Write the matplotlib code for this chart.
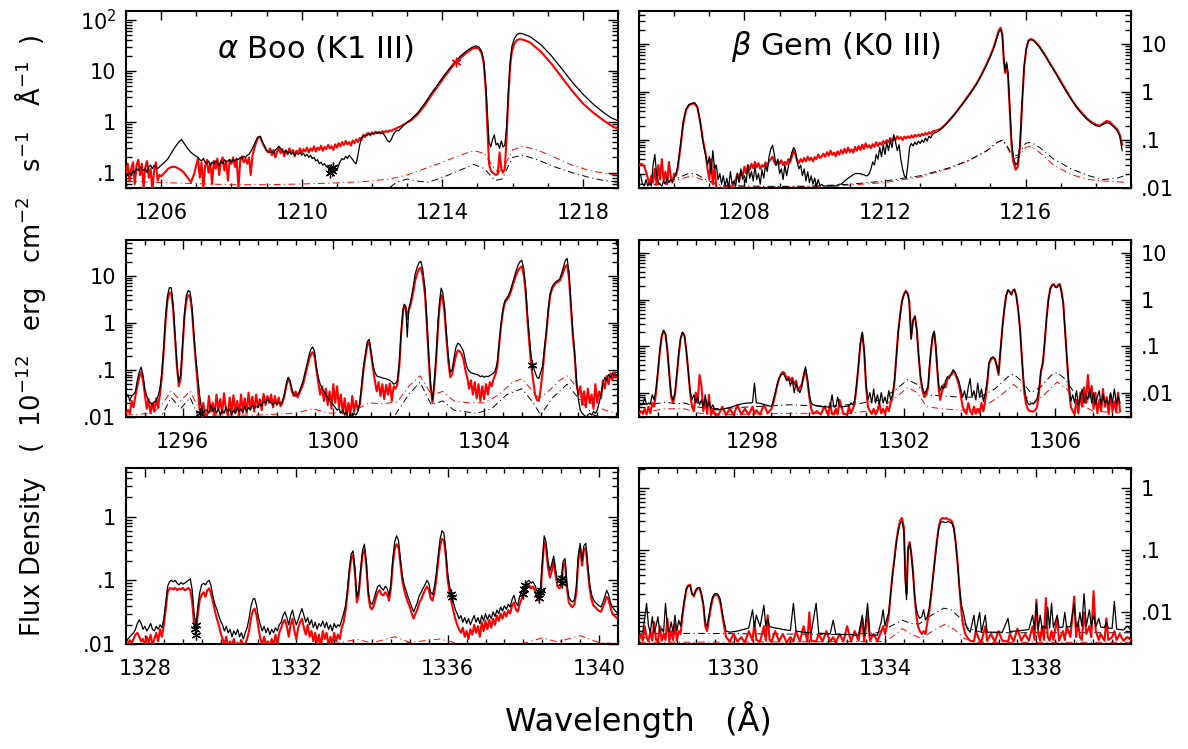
import numpy as np
import matplotlib
matplotlib.use("Agg")
import matplotlib.pyplot as plt
from matplotlib.ticker import (FixedLocator, MultipleLocator, LogLocator,
                               FuncFormatter, NullFormatter)

plt.rcParams['font.family'] = ['DejaVu Sans']
plt.rcParams['mathtext.fontset'] = 'dejavusans'

# ------------------------------------------------------------------
# Spectra: (wavelength [A], black trace flux, red trace flux)
# flux in 1e-12 erg cm^-2 s^-1 A^-1
# ------------------------------------------------------------------

# alpha Boo, Lyman-alpha region
boo_lya_spec = [
    (1205.00, 0.085, 0.10), (1205.05, 0.09, 0.15), (1205.10, 0.10, 0.07),
    (1205.15, 0.09, 0.12), (1205.20, 0.11, 0.16), (1205.25, 0.10, 0.06),
    (1205.30, 0.12, 0.14), (1205.35, 0.11, 0.18), (1205.40, 0.13, 0.09),
    (1205.45, 0.12, 0.15), (1205.50, 0.11, 0.05), (1205.55, 0.12, 0.13),
    (1205.60, 0.10, 0.17), (1205.65, 0.13, 0.08), (1205.70, 0.14, 0.12),
    (1205.75, 0.12, 0.045), (1205.80, 0.14, 0.11), (1205.85, 0.13, 0.16),
    (1205.90, 0.12, 0.07), (1205.95, 0.13, 0.09), (1206.00, 0.14, 0.085),
    (1206.10, 0.16, 0.10), (1206.20, 0.19, 0.12), (1206.30, 0.25, 0.13),
    (1206.40, 0.32, 0.13), (1206.50, 0.40, 0.12), (1206.58, 0.45, 0.11),
    (1206.65, 0.38, 0.10), (1206.75, 0.30, 0.08), (1206.85, 0.25, 0.065),
    (1206.95, 0.22, 0.10), (1207.00, 0.21, 0.14), (1207.05, 0.20, 0.19),
    (1207.10, 0.18, 0.08), (1207.15, 0.17, 0.16), (1207.20, 0.19, 0.05),
    (1207.25, 0.16, 0.13), (1207.30, 0.15, 0.18), (1207.35, 0.17, 0.10),
    (1207.40, 0.14, 0.15), (1207.45, 0.16, 0.06), (1207.50, 0.15, 0.17),
    (1207.55, 0.17, 0.12), (1207.60, 0.16, 0.19), (1207.65, 0.14, 0.09),
    (1207.70, 0.17, 0.16), (1207.75, 0.15, 0.20), (1207.80, 0.18, 0.11),
    (1207.85, 0.16, 0.17), (1207.90, 0.17, 0.07), (1207.95, 0.18, 0.18),
    (1208.00, 0.16, 0.15), (1208.05, 0.18, 0.20), (1208.10, 0.17, 0.13),
    (1208.15, 0.19, 0.18), (1208.20, 0.18, 0.05), (1208.25, 0.20, 0.17),
    (1208.30, 0.19, 0.21), (1208.35, 0.21, 0.16), (1208.40, 0.20, 0.19),
    (1208.45, 0.22, 0.15), (1208.50, 0.23, 0.20), (1208.55, 0.26, 0.09),
    (1208.60, 0.30, 0.22), (1208.68, 0.40, 0.35), (1208.75, 0.50, 0.48),
    (1208.82, 0.52, 0.50), (1208.90, 0.38, 0.36), (1209.00, 0.28, 0.27),
    (1209.05, 0.26, 0.25), (1209.10, 0.25, 0.30), (1209.15, 0.27, 0.22),
    (1209.20, 0.24, 0.28), (1209.25, 0.28, 0.20), (1209.30, 0.30, 0.26),
    (1209.35, 0.33, 0.31), (1209.40, 0.30, 0.24), (1209.45, 0.27, 0.29),
    (1209.50, 0.25, 0.21), (1209.55, 0.28, 0.27), (1209.60, 0.24, 0.23),
    (1209.65, 0.26, 0.30), (1209.70, 0.23, 0.24), (1209.75, 0.25, 0.28),
    (1209.80, 0.22, 0.21), (1209.85, 0.24, 0.27), (1209.90, 0.23, 0.25),
    (1209.95, 0.25, 0.30), (1210.00, 0.22, 0.24), (1210.05, 0.24, 0.29),
    (1210.10, 0.21, 0.26), (1210.15, 0.23, 0.31), (1210.20, 0.20, 0.25),
    (1210.25, 0.22, 0.30), (1210.30, 0.19, 0.27), (1210.35, 0.20, 0.33),
    (1210.40, 0.17, 0.26), (1210.45, 0.18, 0.31), (1210.50, 0.15, 0.28),
    (1210.55, 0.16, 0.34), (1210.60, 0.14, 0.27), (1210.65, 0.15, 0.32),
    (1210.70, 0.13, 0.29), (1210.75, 0.14, 0.35), (1210.80, 0.12, 0.30),
    (1210.85, 0.13, 0.33), (1210.90, 0.11, 0.28), (1210.95, 0.12, 0.36),
    (1211.00, 0.11, 0.31), (1211.05, 0.14, 0.38), (1211.10, 0.17, 0.33),
    (1211.15, 0.19, 0.40), (1211.20, 0.18, 0.35), (1211.25, 0.21, 0.42),
    (1211.30, 0.19, 0.36), (1211.35, 0.22, 0.40), (1211.40, 0.20, 0.34),
    (1211.45, 0.18, 0.43), (1211.50, 0.16, 0.38), (1211.55, 0.15, 0.45),
    (1211.60, 0.22, 0.40), (1211.65, 0.35, 0.48), (1211.70, 0.48, 0.44),
    (1211.75, 0.52, 0.55), (1211.80, 0.55, 0.50), (1211.85, 0.53, 0.58),
    (1211.90, 0.57, 0.60), (1211.95, 0.56, 0.54), (1212.00, 0.60, 0.62),
    (1212.05, 0.58, 0.57), (1212.10, 0.61, 0.64), (1212.15, 0.59, 0.60),
    (1212.20, 0.62, 0.63), (1212.25, 0.58, 0.61), (1212.30, 0.60, 0.65),
    (1212.35, 0.55, 0.62), (1212.40, 0.48, 0.66), (1212.45, 0.42, 0.63),
    (1212.50, 0.40, 0.68), (1212.55, 0.45, 0.66), (1212.60, 0.55, 0.70),
    (1212.65, 0.62, 0.72), (1212.70, 0.68, 0.75), (1212.75, 0.66, 0.78),
    (1212.80, 0.72, 0.80), (1212.85, 0.78, 0.84), (1212.90, 0.85, 0.88),
    (1212.95, 0.90, 0.92), (1213.00, 0.98, 0.97), (1213.10, 1.10, 1.05),
    (1213.30, 1.50, 1.40), (1213.50, 2.30, 2.10), (1213.70, 3.70, 3.40),
    (1213.90, 5.80, 5.30), (1214.10, 9.00, 8.30), (1214.30, 13.5, 12.5),
    (1214.40, 16.0, 15.0), (1214.50, 19.0, 17.5), (1214.70, 25.0, 23.0),
    (1214.85, 29.0, 27.0), (1214.95, 31.0, 28.5), (1215.05, 29.0, 27.0),
    (1215.12, 24.0, 22.0), (1215.18, 16.0, 14.0), (1215.24, 5.0, 4.0),
    (1215.29, 1.2, 0.6), (1215.33, 0.40, 0.15), (1215.38, 0.32, 0.11),
    (1215.43, 0.45, 0.10), (1215.48, 0.55, 0.095), (1215.53, 0.35, 0.09),
    (1215.58, 0.38, 0.095), (1215.63, 0.30, 0.25), (1215.68, 0.42, 0.12),
    (1215.73, 0.32, 0.10), (1215.78, 0.35, 0.12), (1215.83, 0.80, 0.50),
    (1215.88, 4.0, 3.0), (1215.93, 15.0, 12.0), (1215.98, 30.0, 24.0),
    (1216.05, 43.0, 34.0), (1216.12, 51.0, 40.0), (1216.20, 55.0, 42.0),
    (1216.30, 53.0, 41.0), (1216.50, 47.0, 36.0), (1216.80, 33.0, 24.0),
    (1217.10, 20.0, 14.0), (1217.40, 11.0, 7.5), (1217.70, 6.0, 4.0),
    (1218.00, 3.5, 2.3), (1218.30, 2.2, 1.5), (1218.60, 1.5, 1.05),
    (1218.80, 1.2, 0.85), (1219.00, 1.05, 0.72),
]
boo_lya_model_black = [
    (1205.0, 0.030), (1212.0, 0.035), (1212.4, 0.045), (1212.7, 0.065),
    (1213.0, 0.075), (1213.3, 0.068), (1213.6, 0.065), (1214.0, 0.080),
    (1214.4, 0.105), (1214.9, 0.145), (1215.2, 0.120), (1215.5, 0.070),
    (1215.7, 0.075), (1216.0, 0.200), (1216.3, 0.220), (1216.7, 0.180),
    (1217.2, 0.130), (1217.7, 0.100), (1218.2, 0.080), (1218.6, 0.070),
    (1219.0, 0.065),
]
boo_lya_model_red = [
    (1205.0, 0.068), (1206.0, 0.064), (1207.0, 0.061), (1208.0, 0.058),
    (1209.0, 0.058), (1210.0, 0.060), (1211.0, 0.063), (1211.8, 0.067),
    (1212.5, 0.075), (1213.0, 0.090), (1213.5, 0.120), (1214.0, 0.160),
    (1214.5, 0.220), (1214.9, 0.270), (1215.2, 0.240), (1215.45, 0.130),
    (1215.6, 0.100), (1215.8, 0.150), (1216.0, 0.280), (1216.3, 0.330),
    (1216.7, 0.280), (1217.2, 0.200), (1217.7, 0.140), (1218.2, 0.110),
    (1218.7, 0.095), (1219.0, 0.090),
]
boo_lya_flag_black = [(1210.80, 0.10), (1210.83, 0.12), (1210.86, 0.11), (1210.88, 0.13)]
boo_lya_flag_red = [(1214.40, 15.0)]

# beta Gem, Lyman-alpha region
gem_lya_spec = [
    (1205.00, 0.020, 0.030), (1205.05, 0.018, 0.032), (1205.10, 0.012, 0.031),
    (1205.15, 0.011, 0.028), (1205.20, 0.015, 0.022), (1205.25, 0.011, 0.016),
    (1205.30, 0.013, 0.012), (1205.35, 0.011, 0.018), (1205.40, 0.030, 0.013),
    (1205.45, 0.050, 0.025), (1205.50, 0.020, 0.012), (1205.55, 0.013, 0.030),
    (1205.60, 0.012, 0.015), (1205.65, 0.011, 0.040), (1205.70, 0.014, 0.014),
    (1205.75, 0.012, 0.022), (1205.80, 0.016, 0.012), (1205.85, 0.013, 0.035),
    (1205.90, 0.015, 0.018), (1205.95, 0.014, 0.013), (1206.00, 0.016, 0.020),
    (1206.05, 0.020, 0.018), (1206.10, 0.028, 0.025), (1206.18, 0.080, 0.070),
    (1206.26, 0.250, 0.220), (1206.34, 0.450, 0.420), (1206.42, 0.550, 0.530),
    (1206.50, 0.580, 0.570), (1206.58, 0.600, 0.580), (1206.66, 0.500, 0.480),
    (1206.74, 0.250, 0.240), (1206.82, 0.090, 0.100), (1206.90, 0.045, 0.050),
    (1206.95, 0.030, 0.025), (1207.00, 0.045, 0.015), (1207.05, 0.020, 0.040),
    (1207.10, 0.060, 0.012), (1207.15, 0.025, 0.030), (1207.20, 0.030, 0.010),
    (1207.25, 0.015, 0.009), (1207.30, 0.020, 0.009), (1207.35, 0.012, 0.010),
    (1207.40, 0.018, 0.010), (1207.45, 0.011, 0.011), (1207.50, 0.016, 0.010),
    (1207.55, 0.010, 0.012), (1207.60, 0.022, 0.011), (1207.65, 0.012, 0.010),
    (1207.70, 0.014, 0.013), (1207.75, 0.011, 0.015), (1207.80, 0.020, 0.020),
    (1207.85, 0.013, 0.014), (1207.90, 0.025, 0.022), (1207.95, 0.015, 0.018),
    (1208.00, 0.018, 0.028), (1208.05, 0.013, 0.020), (1208.10, 0.030, 0.030),
    (1208.15, 0.016, 0.024), (1208.20, 0.022, 0.032), (1208.25, 0.014, 0.026),
    (1208.30, 0.028, 0.035), (1208.35, 0.015, 0.027), (1208.40, 0.020, 0.033),
    (1208.45, 0.012, 0.025), (1208.50, 0.024, 0.030), (1208.55, 0.016, 0.028),
    (1208.60, 0.030, 0.034), (1208.65, 0.022, 0.029), (1208.70, 0.045, 0.036),
    (1208.75, 0.065, 0.040), (1208.80, 0.078, 0.045), (1208.85, 0.050, 0.035),
    (1208.90, 0.030, 0.030), (1208.95, 0.040, 0.037), (1209.00, 0.020, 0.032),
    (1209.05, 0.025, 0.038), (1209.10, 0.015, 0.030), (1209.15, 0.030, 0.035),
    (1209.20, 0.018, 0.031), (1209.25, 0.028, 0.040), (1209.30, 0.040, 0.034),
    (1209.35, 0.055, 0.045), (1209.40, 0.070, 0.060), (1209.45, 0.060, 0.050),
    (1209.50, 0.035, 0.038), (1209.55, 0.025, 0.033), (1209.60, 0.030, 0.040),
    (1209.65, 0.018, 0.035), (1209.70, 0.025, 0.042), (1209.75, 0.014, 0.036),
    (1209.80, 0.022, 0.045), (1209.85, 0.013, 0.038), (1209.90, 0.018, 0.043),
    (1209.95, 0.012, 0.036), (1210.00, 0.016, 0.044), (1210.05, 0.011, 0.040),
    (1210.10, 0.015, 0.050), (1210.15, 0.011, 0.042), (1210.20, 0.012, 0.046),
    (1210.25, 0.011, 0.052), (1210.30, 0.011, 0.045), (1210.35, 0.011, 0.056),
    (1210.40, 0.011, 0.047), (1210.45, 0.011, 0.060), (1210.50, 0.011, 0.049),
    (1210.55, 0.011, 0.055), (1210.60, 0.011, 0.046), (1210.65, 0.011, 0.058),
    (1210.70, 0.012, 0.050), (1210.75, 0.012, 0.062), (1210.80, 0.013, 0.052),
    (1210.85, 0.014, 0.066), (1210.90, 0.015, 0.054), (1210.95, 0.016, 0.070),
    (1211.00, 0.017, 0.056), (1211.05, 0.018, 0.064), (1211.10, 0.019, 0.055),
    (1211.15, 0.020, 0.072), (1211.20, 0.020, 0.060), (1211.25, 0.020, 0.075),
    (1211.30, 0.020, 0.062), (1211.35, 0.019, 0.080), (1211.40, 0.019, 0.065),
    (1211.45, 0.018, 0.085), (1211.50, 0.018, 0.070), (1211.55, 0.020, 0.078),
    (1211.60, 0.025, 0.068), (1211.65, 0.035, 0.082), (1211.70, 0.030, 0.072),
    (1211.75, 0.050, 0.090), (1211.80, 0.040, 0.075), (1211.85, 0.070, 0.088),
    (1211.90, 0.045, 0.080), (1211.95, 0.080, 0.095), (1212.00, 0.050, 0.085),
    (1212.05, 0.090, 0.100), (1212.10, 0.060, 0.090), (1212.15, 0.100, 0.110),
    (1212.20, 0.070, 0.095), (1212.25, 0.130, 0.115), (1212.30, 0.090, 0.100),
    (1212.35, 0.060, 0.120), (1212.40, 0.080, 0.105), (1212.45, 0.040, 0.115),
    (1212.50, 0.025, 0.100), (1212.55, 0.018, 0.118), (1212.60, 0.016, 0.108),
    (1212.65, 0.030, 0.120), (1212.70, 0.070, 0.110), (1212.75, 0.085, 0.125),
    (1212.80, 0.075, 0.112), (1212.85, 0.090, 0.128), (1212.90, 0.080, 0.118),
    (1212.95, 0.095, 0.130), (1213.00, 0.085, 0.120), (1213.05, 0.100, 0.135),
    (1213.10, 0.090, 0.125), (1213.15, 0.110, 0.140), (1213.20, 0.095, 0.130),
    (1213.25, 0.120, 0.145), (1213.30, 0.110, 0.135), (1213.35, 0.130, 0.150),
    (1213.40, 0.140, 0.155), (1213.50, 0.150, 0.160), (1213.60, 0.170, 0.175),
    (1213.70, 0.200, 0.205), (1213.80, 0.240, 0.245), (1213.90, 0.290, 0.295),
    (1214.00, 0.360, 0.360), (1214.10, 0.450, 0.450), (1214.20, 0.560, 0.560),
    (1214.30, 0.700, 0.710), (1214.40, 0.880, 0.900), (1214.50, 1.12, 1.15),
    (1214.60, 1.45, 1.50), (1214.70, 1.95, 2.00), (1214.80, 2.70, 2.80),
    (1214.90, 3.80, 4.00), (1215.00, 5.50, 5.80), (1215.10, 8.50, 9.00),
    (1215.18, 13.0, 14.0), (1215.24, 18.0, 19.5), (1215.29, 20.0, 22.0),
    (1215.34, 15.0, 16.0), (1215.38, 5.00, 4.50), (1215.42, 2.70, 2.50),
    (1215.46, 4.20, 3.80), (1215.50, 2.50, 2.20), (1215.55, 0.50, 0.40),
    (1215.60, 0.10, 0.08), (1215.65, 0.045, 0.035), (1215.72, 0.030, 0.024),
    (1215.78, 0.035, 0.028), (1215.84, 0.080, 0.070), (1215.90, 0.60, 0.55),
    (1215.96, 3.50, 3.30), (1216.02, 8.00, 8.00), (1216.08, 11.5, 11.8),
    (1216.15, 12.5, 12.8), (1216.25, 11.5, 11.8), (1216.40, 8.50, 8.80),
    (1216.55, 5.80, 6.00), (1216.70, 3.80, 3.90), (1216.85, 2.50, 2.60),
    (1217.00, 1.60, 1.70), (1217.15, 1.05, 1.10), (1217.30, 0.70, 0.72),
    (1217.45, 0.48, 0.50), (1217.60, 0.35, 0.37), (1217.75, 0.27, 0.28),
    (1217.90, 0.22, 0.23), (1218.00, 0.20, 0.21), (1218.10, 0.19, 0.20),
    (1218.20, 0.21, 0.22), (1218.30, 0.23, 0.25), (1218.40, 0.22, 0.24),
    (1218.50, 0.19, 0.20), (1218.60, 0.16, 0.17), (1218.68, 0.12, 0.13),
    (1218.75, 0.06, 0.08),
]
gem_lya_model_black = [
    (1205.0, 0.012), (1205.5, 0.012), (1206.0, 0.015), (1206.4, 0.020),
    (1206.6, 0.020), (1206.9, 0.015), (1207.3, 0.0115), (1208.0, 0.011),
    (1209.0, 0.0108), (1210.0, 0.011), (1211.0, 0.012), (1212.0, 0.014),
    (1213.0, 0.018), (1213.8, 0.026), (1214.4, 0.038), (1214.9, 0.060),
    (1215.2, 0.090), (1215.35, 0.100), (1215.5, 0.070), (1215.65, 0.045),
    (1215.8, 0.050), (1216.0, 0.085), (1216.15, 0.090), (1216.4, 0.070),
    (1216.8, 0.040), (1217.3, 0.025), (1217.8, 0.018), (1218.2, 0.015),
    (1218.6, 0.016), (1218.9, 0.019),
]
gem_lya_model_red = [
    (1205.0, 0.012), (1205.5, 0.0115), (1206.0, 0.014), (1206.5, 0.018),
    (1206.9, 0.014), (1207.3, 0.011), (1208.0, 0.0105), (1209.0, 0.0105),
    (1210.0, 0.0108), (1211.0, 0.0115), (1212.0, 0.013), (1213.0, 0.017),
    (1213.8, 0.025), (1214.4, 0.038), (1214.9, 0.060), (1215.2, 0.090),
    (1215.35, 0.100), (1215.5, 0.065), (1215.65, 0.040), (1215.8, 0.045),
    (1216.0, 0.070), (1216.15, 0.075), (1216.4, 0.055), (1216.8, 0.030),
    (1217.3, 0.019), (1217.8, 0.015), (1218.2, 0.014), (1218.6, 0.0135),
    (1218.9, 0.013),
]

# alpha Boo, O I 1300 region
boo_oi_spec = [
    (1294.50, 0.025, 0.012), (1294.55, 0.030, 0.014), (1294.60, 0.022, 0.012),
    (1294.65, 0.028, 0.022), (1294.70, 0.030, 0.016), (1294.75, 0.035, 0.028),
    (1294.80, 0.060, 0.045), (1294.85, 0.090, 0.070), (1294.90, 0.115, 0.090),
    (1294.95, 0.080, 0.060), (1295.00, 0.040, 0.030), (1295.05, 0.028, 0.015),
    (1295.10, 0.022, 0.024), (1295.15, 0.020, 0.012), (1295.20, 0.018, 0.020),
    (1295.25, 0.021, 0.013), (1295.30, 0.022, 0.025), (1295.35, 0.028, 0.016),
    (1295.40, 0.040, 0.030), (1295.45, 0.090, 0.070), (1295.50, 0.300, 0.250),
    (1295.55, 1.40, 1.10), (1295.60, 3.80, 3.00), (1295.65, 5.60, 4.40),
    (1295.70, 5.60, 4.40), (1295.75, 2.50, 2.00), (1295.80, 0.600, 0.500),
    (1295.85, 0.140, 0.120), (1295.90, 0.055, 0.045), (1295.95, 0.080, 0.065),
    (1296.00, 0.350, 0.280), (1296.05, 1.60, 1.30), (1296.10, 3.80, 3.00),
    (1296.15, 4.90, 3.90), (1296.20, 4.60, 3.70), (1296.25, 2.20, 1.80),
    (1296.30, 0.600, 0.500), (1296.35, 0.180, 0.150), (1296.40, 0.080, 0.050),
    (1296.45, 0.030, 0.015), (1296.50, 0.016, 0.009), (1296.55, 0.012, 0.020),
    (1296.60, 0.014, 0.011), (1296.65, 0.014, 0.011), (1296.70, 0.012, 0.028),
    (1296.75, 0.018, 0.013), (1296.80, 0.013, 0.020), (1296.85, 0.016, 0.011),
    (1296.90, 0.012, 0.030), (1296.95, 0.015, 0.014), (1297.00, 0.011, 0.024),
    (1297.05, 0.014, 0.012), (1297.10, 0.012, 0.032), (1297.15, 0.016, 0.015),
    (1297.20, 0.013, 0.011), (1297.25, 0.015, 0.026), (1297.30, 0.011, 0.013),
    (1297.35, 0.014, 0.029), (1297.40, 0.012, 0.012), (1297.45, 0.016, 0.022),
    (1297.50, 0.013, 0.011), (1297.55, 0.015, 0.030), (1297.60, 0.012, 0.014),
    (1297.65, 0.017, 0.025), (1297.70, 0.013, 0.012), (1297.75, 0.016, 0.033),
    (1297.80, 0.014, 0.015), (1297.85, 0.018, 0.027), (1297.90, 0.015, 0.013),
    (1297.95, 0.017, 0.030), (1298.00, 0.016, 0.016), (1298.05, 0.019, 0.024),
    (1298.10, 0.017, 0.014), (1298.15, 0.022, 0.031), (1298.20, 0.020, 0.018),
    (1298.25, 0.024, 0.028), (1298.30, 0.022, 0.020), (1298.35, 0.020, 0.030),
    (1298.40, 0.018, 0.016), (1298.45, 0.021, 0.028), (1298.50, 0.019, 0.018),
    (1298.55, 0.020, 0.026), (1298.60, 0.019, 0.017), (1298.65, 0.022, 0.020),
    (1298.70, 0.030, 0.028), (1298.75, 0.050, 0.045), (1298.80, 0.070, 0.065),
    (1298.85, 0.060, 0.055), (1298.90, 0.040, 0.035), (1298.95, 0.030, 0.028),
    (1299.00, 0.028, 0.035), (1299.05, 0.030, 0.026), (1299.10, 0.035, 0.032),
    (1299.15, 0.045, 0.040), (1299.20, 0.060, 0.050), (1299.25, 0.090, 0.075),
    (1299.30, 0.130, 0.110), (1299.35, 0.200, 0.160), (1299.40, 0.270, 0.210),
    (1299.45, 0.310, 0.240), (1299.50, 0.250, 0.200), (1299.55, 0.120, 0.100),
    (1299.60, 0.070, 0.055), (1299.65, 0.050, 0.030), (1299.70, 0.042, 0.045),
    (1299.75, 0.035, 0.022), (1299.80, 0.030, 0.040), (1299.85, 0.026, 0.018),
    (1299.90, 0.022, 0.035), (1299.95, 0.020, 0.015), (1300.00, 0.018, 0.050),
    (1300.05, 0.016, 0.020), (1300.10, 0.014, 0.045), (1300.15, 0.015, 0.016),
    (1300.20, 0.012, 0.030), (1300.25, 0.014, 0.012), (1300.30, 0.011, 0.025),
    (1300.35, 0.013, 0.011), (1300.40, 0.009, 0.020), (1300.45, 0.012, 0.011),
    (1300.50, 0.010, 0.028), (1300.55, 0.012, 0.013), (1300.60, 0.011, 0.022),
    (1300.65, 0.013, 0.014), (1300.70, 0.020, 0.018), (1300.75, 0.050, 0.040),
    (1300.80, 0.120, 0.100), (1300.85, 0.220, 0.190), (1300.90, 0.400, 0.340),
    (1300.95, 0.450, 0.390), (1301.00, 0.250, 0.220), (1301.05, 0.130, 0.110),
    (1301.10, 0.090, 0.060), (1301.15, 0.075, 0.035), (1301.20, 0.072, 0.055),
    (1301.25, 0.070, 0.028), (1301.30, 0.068, 0.050), (1301.35, 0.066, 0.024),
    (1301.40, 0.065, 0.048), (1301.45, 0.062, 0.030), (1301.50, 0.060, 0.052),
    (1301.55, 0.056, 0.022), (1301.60, 0.050, 0.045), (1301.65, 0.052, 0.040),
    (1301.70, 0.060, 0.050), (1301.75, 0.150, 0.120), (1301.80, 0.700, 0.600),
    (1301.85, 2.00, 1.80), (1301.88, 2.50, 2.20), (1301.92, 2.30, 2.10),
    (1301.96, 0.500, 1.20), (1302.00, 2.00, 1.90), (1302.04, 2.60, 2.30),
    (1302.08, 4.00, 3.20), (1302.12, 6.00, 4.50), (1302.17, 11.0, 8.00),
    (1302.22, 15.0, 11.0), (1302.27, 19.0, 14.0), (1302.32, 20.5, 15.0),
    (1302.37, 14.0, 10.0), (1302.43, 5.50, 4.00), (1302.48, 1.20, 0.90),
    (1302.53, 0.220, 0.160), (1302.58, 0.050, 0.040), (1302.63, 0.023, 0.020),
    (1302.68, 0.060, 0.050), (1302.73, 0.220, 0.180), (1302.78, 1.20, 0.90),
    (1302.82, 3.00, 2.30), (1302.86, 5.50, 3.90), (1302.90, 4.50, 3.40),
    (1302.95, 2.20, 1.60), (1303.00, 0.600, 0.450), (1303.05, 0.200, 0.150),
    (1303.10, 0.090, 0.070), (1303.15, 0.100, 0.080), (1303.20, 0.180, 0.130),
    (1303.25, 0.300, 0.200), (1303.30, 0.370, 0.260), (1303.35, 0.350, 0.250),
    (1303.40, 0.300, 0.220), (1303.45, 0.250, 0.170), (1303.50, 0.160, 0.100),
    (1303.55, 0.110, 0.070), (1303.60, 0.095, 0.040), (1303.65, 0.088, 0.060),
    (1303.70, 0.085, 0.030), (1303.75, 0.082, 0.055), (1303.80, 0.080, 0.025),
    (1303.85, 0.078, 0.050), (1303.90, 0.072, 0.022), (1303.95, 0.075, 0.045),
    (1304.00, 0.070, 0.024), (1304.05, 0.074, 0.050), (1304.10, 0.072, 0.030),
    (1304.15, 0.076, 0.055), (1304.20, 0.080, 0.045), (1304.25, 0.085, 0.065),
    (1304.30, 0.100, 0.080), (1304.35, 0.150, 0.120), (1304.40, 0.400, 0.350),
    (1304.45, 1.00, 0.900), (1304.50, 2.00, 1.80), (1304.55, 3.00, 2.70),
    (1304.60, 3.40, 3.10), (1304.65, 3.90, 3.50), (1304.70, 5.00, 4.40),
    (1304.75, 7.00, 6.00), (1304.80, 9.50, 8.00), (1304.85, 13.0, 10.5),
    (1304.90, 17.0, 13.0), (1304.95, 20.0, 15.0), (1305.00, 21.5, 16.0),
    (1305.05, 14.0, 10.5), (1305.10, 6.00, 4.50), (1305.15, 1.50, 1.10),
    (1305.20, 0.500, 0.350), (1305.25, 0.180, 0.120), (1305.30, 0.120, 0.060),
    (1305.35, 0.090, 0.030), (1305.40, 0.070, 0.023), (1305.45, 0.066, 0.022),
    (1305.50, 0.090, 0.040), (1305.55, 0.120, 0.090), (1305.60, 0.300, 0.250),
    (1305.65, 0.700, 0.600), (1305.70, 2.00, 1.70), (1305.75, 4.20, 3.80),
    (1305.80, 5.80, 5.20), (1305.85, 6.80, 6.20), (1305.90, 7.50, 7.00),
    (1305.95, 8.00, 7.40), (1306.00, 8.50, 7.80), (1306.05, 11.0, 9.50),
    (1306.10, 15.0, 12.0), (1306.15, 21.0, 16.0), (1306.20, 23.5, 17.0),
    (1306.25, 12.0, 9.00), (1306.30, 3.00, 2.30), (1306.35, 0.700, 0.550),
    (1306.40, 0.250, 0.200), (1306.45, 0.060, 0.050), (1306.50, 0.023, 0.030),
    (1306.55, 0.014, 0.045), (1306.60, 0.012, 0.018), (1306.65, 0.011, 0.035),
    (1306.70, 0.010, 0.016), (1306.75, 0.011, 0.040), (1306.80, 0.012, 0.020),
    (1306.85, 0.011, 0.030), (1306.90, 0.013, 0.015), (1306.95, 0.012, 0.050),
    (1307.00, 0.014, 0.020), (1307.05, 0.020, 0.035), (1307.10, 0.030, 0.025),
    (1307.15, 0.050, 0.060), (1307.20, 0.070, 0.040), (1307.25, 0.060, 0.075),
    (1307.30, 0.080, 0.050), (1307.35, 0.070, 0.085), (1307.40, 0.085, 0.060),
    (1307.45, 0.075, 0.090), (1307.50, 0.080, 0.070),
]
boo_oi_model_black = [
    (1294.5, 0.007), (1295.4, 0.009), (1295.7, 0.026), (1295.95, 0.015),
    (1296.2, 0.026), (1296.45, 0.009), (1296.8, 0.007), (1300.5, 0.007),
    (1301.0, 0.009), (1301.6, 0.010), (1302.0, 0.030), (1302.3, 0.055),
    (1302.6, 0.018), (1302.9, 0.022), (1303.2, 0.014), (1303.8, 0.012),
    (1304.2, 0.015), (1304.6, 0.030), (1305.0, 0.040), (1305.3, 0.020),
    (1305.5, 0.011), (1305.8, 0.025), (1306.2, 0.050), (1306.5, 0.025),
    (1306.9, 0.011), (1307.5, 0.008),
]
boo_oi_model_red = [
    (1294.5, 0.011), (1295.2, 0.012), (1295.45, 0.018), (1295.7, 0.036),
    (1295.95, 0.022), (1296.2, 0.036), (1296.45, 0.014), (1296.8, 0.011),
    (1298.0, 0.011), (1299.0, 0.012), (1299.45, 0.015), (1299.9, 0.012),
    (1300.5, 0.013), (1300.95, 0.020), (1301.3, 0.019), (1301.7, 0.021),
    (1302.0, 0.045), (1302.3, 0.075), (1302.55, 0.035), (1302.65, 0.030),
    (1302.9, 0.035), (1303.2, 0.022), (1303.6, 0.020), (1304.0, 0.020),
    (1304.4, 0.030), (1304.75, 0.055), (1305.0, 0.065), (1305.3, 0.035),
    (1305.45, 0.025), (1305.7, 0.035), (1306.0, 0.060), (1306.2, 0.075),
    (1306.5, 0.040), (1306.8, 0.020), (1307.2, 0.014), (1307.5, 0.012),
]
boo_oi_flag_black = [(1305.27, 0.13), (1296.45, 0.012)]

# beta Gem, O I 1300 region
gem_oi_spec = [
    (1295.00, 0.0055, 0.0036), (1295.05, 0.0055, 0.0040), (1295.10, 0.0056, 0.0035),
    (1295.15, 0.0080, 0.0045), (1295.20, 0.0055, 0.0034), (1295.25, 0.0060, 0.0050),
    (1295.30, 0.0058, 0.0036), (1295.35, 0.0090, 0.0060), (1295.40, 0.0070, 0.0050),
    (1295.45, 0.0120, 0.0100), (1295.50, 0.0300, 0.0280), (1295.55, 0.0800, 0.0750),
    (1295.60, 0.1700, 0.1600), (1295.65, 0.2200, 0.2100), (1295.70, 0.1800, 0.1800),
    (1295.75, 0.0800, 0.0800), (1295.80, 0.0250, 0.0250), (1295.85, 0.0090, 0.0080),
    (1295.90, 0.0070, 0.0060), (1295.95, 0.0100, 0.0090), (1296.00, 0.0250, 0.0230),
    (1296.05, 0.0700, 0.0650), (1296.10, 0.1500, 0.1450), (1296.15, 0.2000, 0.1950),
    (1296.20, 0.1700, 0.1700), (1296.25, 0.0800, 0.0800), (1296.30, 0.0300, 0.0300),
    (1296.35, 0.0110, 0.0100), (1296.40, 0.0070, 0.0050), (1296.45, 0.0090, 0.0040),
    (1296.50, 0.0060, 0.0100), (1296.55, 0.0080, 0.0060), (1296.60, 0.0055, 0.0240),
    (1296.65, 0.0070, 0.0140), (1296.70, 0.0050, 0.0040), (1296.75, 0.0090, 0.0070),
    (1296.80, 0.0048, 0.0035), (1296.85, 0.0065, 0.0090), (1296.90, 0.0045, 0.0033),
    (1296.95, 0.0055, 0.0045), (1297.00, 0.0043, 0.0035), (1297.10, 0.0043, 0.0033),
    (1297.20, 0.0044, 0.0050), (1297.30, 0.0046, 0.0033), (1297.40, 0.0048, 0.0045),
    (1297.50, 0.0051, 0.0033), (1297.60, 0.0054, 0.0055), (1297.70, 0.0057, 0.0034),
    (1297.80, 0.0059, 0.0045), (1297.90, 0.0060, 0.0034), (1298.00, 0.0061, 0.0050),
    (1298.05, 0.0160, 0.0035), (1298.10, 0.0060, 0.0042), (1298.20, 0.0059, 0.0034),
    (1298.30, 0.0056, 0.0055), (1298.40, 0.0053, 0.0036), (1298.50, 0.0050, 0.0045),
    (1298.55, 0.0070, 0.0060), (1298.60, 0.0100, 0.0090), (1298.65, 0.0150, 0.0140),
    (1298.70, 0.0200, 0.0200), (1298.75, 0.0240, 0.0250), (1298.80, 0.0260, 0.0280),
    (1298.85, 0.0230, 0.0260), (1298.90, 0.0180, 0.0200), (1298.95, 0.0200, 0.0220),
    (1299.00, 0.0140, 0.0180), (1299.05, 0.0190, 0.0210), (1299.10, 0.0100, 0.0150),
    (1299.15, 0.0160, 0.0180), (1299.20, 0.0120, 0.0110), (1299.25, 0.0100, 0.0130),
    (1299.30, 0.0130, 0.0150), (1299.35, 0.0250, 0.0220), (1299.40, 0.0360, 0.0300),
    (1299.45, 0.0200, 0.0180), (1299.50, 0.0090, 0.0080), (1299.55, 0.0060, 0.0045),
    (1299.60, 0.0055, 0.0035), (1299.70, 0.0052, 0.0040), (1299.80, 0.0050, 0.0034),
    (1299.90, 0.0050, 0.0050), (1300.00, 0.0049, 0.0033), (1300.05, 0.0049, 0.0060),
    (1300.10, 0.0090, 0.0035), (1300.15, 0.0049, 0.0034), (1300.20, 0.0050, 0.0045),
    (1300.25, 0.0080, 0.0034), (1300.30, 0.0050, 0.0070), (1300.40, 0.0050, 0.0035),
    (1300.50, 0.0051, 0.0034), (1300.55, 0.0052, 0.0050), (1300.60, 0.0060, 0.0036),
    (1300.65, 0.0055, 0.0045), (1300.70, 0.0070, 0.0060), (1300.75, 0.0150, 0.0140),
    (1300.80, 0.0400, 0.0380), (1300.85, 0.1200, 0.1100), (1300.90, 0.2000, 0.1900),
    (1300.95, 0.0800, 0.0750), (1301.00, 0.0150, 0.0130), (1301.05, 0.0070, 0.0050),
    (1301.10, 0.0100, 0.0040), (1301.15, 0.0060, 0.0035), (1301.20, 0.0120, 0.0045),
    (1301.25, 0.0060, 0.0034), (1301.30, 0.0090, 0.0040), (1301.35, 0.0055, 0.0060),
    (1301.40, 0.0100, 0.0036), (1301.45, 0.0060, 0.0045), (1301.50, 0.0080, 0.0035),
    (1301.55, 0.0058, 0.0050), (1301.60, 0.0110, 0.0040), (1301.65, 0.0070, 0.0060),
    (1301.70, 0.0090, 0.0080), (1301.75, 0.0180, 0.0170), (1301.80, 0.0600, 0.0600),
    (1301.85, 0.2000, 0.2100), (1301.90, 0.4500, 0.4800), (1301.95, 0.9000, 0.9500),
    (1302.00, 1.2500, 1.3000), (1302.05, 1.5000, 1.5500), (1302.10, 1.3000, 1.3500),
    (1302.14, 0.9000, 0.9500), (1302.19, 0.1400, 0.1500), (1302.24, 0.3500, 0.3600),
    (1302.29, 0.4300, 0.4400), (1302.34, 0.2200, 0.2300), (1302.39, 0.0600, 0.0600),
    (1302.44, 0.0220, 0.0200), (1302.49, 0.0130, 0.0110), (1302.54, 0.0095, 0.0080),
    (1302.59, 0.0110, 0.0090), (1302.64, 0.0140, 0.0130), (1302.68, 0.0400, 0.0380),
    (1302.72, 0.0900, 0.0850), (1302.76, 0.1700, 0.1600), (1302.80, 0.2100, 0.2000),
    (1302.84, 0.1000, 0.1000), (1302.88, 0.0350, 0.0320), (1302.92, 0.0140, 0.0120),
    (1302.96, 0.0110, 0.0070), (1303.00, 0.0140, 0.0100), (1303.05, 0.0120, 0.0150),
    (1303.10, 0.0180, 0.0130), (1303.15, 0.0220, 0.0200), (1303.20, 0.0200, 0.0230),
    (1303.25, 0.0260, 0.0240), (1303.30, 0.0310, 0.0280), (1303.35, 0.0280, 0.0260),
    (1303.40, 0.0220, 0.0200), (1303.45, 0.0180, 0.0150), (1303.50, 0.0120, 0.0090),
    (1303.55, 0.0080, 0.0050), (1303.60, 0.0110, 0.0040), (1303.65, 0.0070, 0.0035),
    (1303.70, 0.0130, 0.0060), (1303.75, 0.0200, 0.0040), (1303.80, 0.0080, 0.0034),
    (1303.85, 0.0110, 0.0050), (1303.90, 0.0070, 0.0035), (1303.95, 0.0160, 0.0045),
    (1304.00, 0.0080, 0.0036), (1304.05, 0.0120, 0.0060), (1304.10, 0.0065, 0.0040),
    (1304.15, 0.0100, 0.0070), (1304.20, 0.0180, 0.0150), (1304.25, 0.0450, 0.0420),
    (1304.30, 0.0550, 0.0520), (1304.35, 0.0590, 0.0560), (1304.40, 0.0550, 0.0530),
    (1304.45, 0.0400, 0.0380), (1304.50, 0.0260, 0.0240), (1304.55, 0.0800, 0.0750),
    (1304.60, 0.2500, 0.2400), (1304.65, 0.6000, 0.5800), (1304.70, 1.2000, 1.2000),
    (1304.75, 1.6000, 1.6000), (1304.80, 1.4500, 1.4500), (1304.84, 1.2700, 1.2800),
    (1304.88, 1.5500, 1.5500), (1304.92, 1.6500, 1.6500), (1304.97, 1.2000, 1.2000),
    (1305.02, 0.6000, 0.6000), (1305.07, 0.2200, 0.2200), (1305.12, 0.0500, 0.0500),
    (1305.17, 0.0150, 0.0120), (1305.22, 0.0080, 0.0060), (1305.27, 0.0060, 0.0045),
    (1305.32, 0.0055, 0.0040), (1305.37, 0.0060, 0.0040), (1305.42, 0.0058, 0.0039),
    (1305.47, 0.0065, 0.0042), (1305.52, 0.0075, 0.0050), (1305.57, 0.0120, 0.0100),
    (1305.62, 0.0300, 0.0280), (1305.67, 0.0450, 0.0420), (1305.72, 0.1200, 0.1200),
    (1305.77, 0.4000, 0.4100), (1305.82, 1.0000, 1.0500), (1305.87, 1.7000, 1.7500),
    (1305.92, 2.0000, 2.1000), (1305.96, 2.0700, 2.1500), (1306.00, 1.8500, 1.9000),
    (1306.04, 1.8000, 1.8500), (1306.08, 2.0000, 2.1000), (1306.12, 2.0700, 2.1500),
    (1306.16, 1.5000, 1.5500), (1306.21, 0.8000, 0.8500), (1306.26, 0.2000, 0.2000),
    (1306.31, 0.0500, 0.0450), (1306.36, 0.0150, 0.0120), (1306.41, 0.0065, 0.0050),
    (1306.46, 0.0090, 0.0040), (1306.51, 0.0060, 0.0035), (1306.56, 0.0110, 0.0070),
    (1306.61, 0.0055, 0.0036), (1306.66, 0.0080, 0.0100), (1306.71, 0.0120, 0.0050),
    (1306.76, 0.0060, 0.0130), (1306.81, 0.0090, 0.0060), (1306.86, 0.0070, 0.0240),
    (1306.91, 0.0120, 0.0080), (1306.96, 0.0060, 0.0140), (1307.01, 0.0100, 0.0045),
    (1307.06, 0.0055, 0.0100), (1307.11, 0.0080, 0.0036), (1307.16, 0.0110, 0.0070),
    (1307.21, 0.0055, 0.0040), (1307.26, 0.0090, 0.0120), (1307.31, 0.0060, 0.0050),
    (1307.36, 0.0070, 0.0080), (1307.41, 0.0055, 0.0035), (1307.46, 0.0100, 0.0090),
    (1307.51, 0.0060, 0.0040), (1307.56, 0.0120, 0.0065), (1307.61, 0.0058, 0.0038),
    (1307.66, 0.0085, 0.0100), (1307.71, 0.0060, 0.0040),
]
gem_oi_model_black = [
    (1295.0, 0.0055), (1295.3, 0.0056), (1295.7, 0.0062), (1296.0, 0.0058),
    (1296.2, 0.0060), (1296.5, 0.0050), (1296.9, 0.0045), (1297.5, 0.0047),
    (1298.0, 0.0050), (1298.5, 0.0052), (1299.0, 0.0055), (1299.6, 0.0052),
    (1300.2, 0.0052), (1300.8, 0.0058), (1301.4, 0.0070), (1301.8, 0.0120),
    (1302.1, 0.0190), (1302.35, 0.0150), (1302.6, 0.0090), (1303.0, 0.0085),
    (1303.5, 0.0080), (1304.0, 0.0080), (1304.4, 0.0120), (1304.75, 0.0220),
    (1304.9, 0.0250), (1305.1, 0.0180), (1305.35, 0.0100), (1305.6, 0.0130),
    (1305.9, 0.0240), (1306.05, 0.0270), (1306.25, 0.0200), (1306.5, 0.0100),
    (1306.8, 0.0065), (1307.2, 0.0056), (1307.7, 0.0055),
]
gem_oi_model_red = [
    (1295.0, 0.0037), (1295.7, 0.0045), (1296.2, 0.0045), (1296.6, 0.0036),
    (1297.5, 0.0034), (1299.0, 0.0036), (1300.5, 0.0036), (1301.3, 0.0042),
    (1301.8, 0.0080), (1302.1, 0.0130), (1302.35, 0.0100), (1302.6, 0.0050),
    (1303.0, 0.0045), (1303.5, 0.0042), (1304.0, 0.0045), (1304.5, 0.0080),
    (1304.9, 0.0150), (1305.15, 0.0100), (1305.4, 0.0055), (1305.7, 0.0090),
    (1306.05, 0.0170), (1306.3, 0.0120), (1306.6, 0.0060), (1307.0, 0.0040),
    (1307.7, 0.0037),
]

# alpha Boo, C II 1335 region
boo_cii_spec = [
    (1327.50, 0.0105, 0.0095), (1327.55, 0.0120, 0.0100), (1327.60, 0.0130, 0.0115),
    (1327.65, 0.0140, 0.0105), (1327.70, 0.0150, 0.0120), (1327.75, 0.0170, 0.0140),
    (1327.80, 0.0210, 0.0150), (1327.85, 0.0240, 0.0130), (1327.90, 0.0210, 0.0110),
    (1327.95, 0.0170, 0.0120), (1328.00, 0.0190, 0.0095), (1328.05, 0.0160, 0.0130),
    (1328.10, 0.0180, 0.0105), (1328.15, 0.0210, 0.0140), (1328.20, 0.0170, 0.0098),
    (1328.25, 0.0160, 0.0120), (1328.30, 0.0190, 0.0150), (1328.35, 0.0170, 0.0110),
    (1328.40, 0.0200, 0.0170), (1328.45, 0.0180, 0.0130), (1328.50, 0.0250, 0.0200),
    (1328.55, 0.0450, 0.0350), (1328.60, 0.0800, 0.0650), (1328.65, 0.0950, 0.0750),
    (1328.70, 0.1000, 0.0750), (1328.75, 0.0950, 0.0720), (1328.80, 0.1000, 0.0760),
    (1328.85, 0.0900, 0.0700), (1328.90, 0.0850, 0.0740), (1328.95, 0.0920, 0.0720),
    (1329.00, 0.0870, 0.0760), (1329.05, 0.0900, 0.0700), (1329.10, 0.0950, 0.0720),
    (1329.15, 0.1000, 0.0760), (1329.20, 0.1050, 0.0700), (1329.25, 0.0700, 0.0450),
    (1329.30, 0.0300, 0.0200), (1329.35, 0.0200, 0.0160), (1329.40, 0.0400, 0.0300),
    (1329.45, 0.0650, 0.0500), (1329.50, 0.0850, 0.0600), (1329.55, 0.0900, 0.0650),
    (1329.60, 0.0850, 0.0550), (1329.65, 0.0950, 0.0700), (1329.70, 0.1000, 0.0750),
    (1329.75, 0.0800, 0.0600), (1329.80, 0.0550, 0.0450), (1329.85, 0.0420, 0.0330),
    (1329.90, 0.0350, 0.0250), (1329.95, 0.0280, 0.0200), (1330.00, 0.0230, 0.0150),
    (1330.05, 0.0200, 0.0120), (1330.10, 0.0160, 0.0100), (1330.15, 0.0190, 0.0130),
    (1330.20, 0.0150, 0.0090), (1330.25, 0.0170, 0.0110), (1330.30, 0.0130, 0.0095),
    (1330.35, 0.0160, 0.0120), (1330.40, 0.0140, 0.0090), (1330.45, 0.0170, 0.0105),
    (1330.50, 0.0130, 0.0092), (1330.55, 0.0150, 0.0115), (1330.60, 0.0120, 0.0090),
    (1330.65, 0.0150, 0.0100), (1330.70, 0.0180, 0.0120), (1330.75, 0.0250, 0.0160),
    (1330.80, 0.0380, 0.0250), (1330.85, 0.0500, 0.0330), (1330.90, 0.0520, 0.0360),
    (1330.95, 0.0400, 0.0280), (1331.00, 0.0260, 0.0180), (1331.05, 0.0200, 0.0120),
    (1331.10, 0.0160, 0.0100), (1331.15, 0.0190, 0.0130), (1331.20, 0.0150, 0.0095),
    (1331.25, 0.0180, 0.0110), (1331.30, 0.0140, 0.0090), (1331.35, 0.0170, 0.0120),
    (1331.40, 0.0150, 0.0095), (1331.45, 0.0180, 0.0140), (1331.50, 0.0160, 0.0100),
    (1331.55, 0.0200, 0.0150), (1331.60, 0.0220, 0.0180), (1331.65, 0.0280, 0.0220),
    (1331.70, 0.0320, 0.0240), (1331.75, 0.0260, 0.0190), (1331.80, 0.0200, 0.0130),
    (1331.85, 0.0280, 0.0200), (1331.90, 0.0340, 0.0250), (1331.95, 0.0250, 0.0160),
    (1332.00, 0.0200, 0.0120), (1332.05, 0.0240, 0.0180), (1332.10, 0.0300, 0.0220),
    (1332.15, 0.0360, 0.0250), (1332.20, 0.0280, 0.0180), (1332.25, 0.0220, 0.0140),
    (1332.30, 0.0260, 0.0200), (1332.35, 0.0200, 0.0130), (1332.40, 0.0240, 0.0160),
    (1332.45, 0.0180, 0.0110), (1332.50, 0.0220, 0.0150), (1332.55, 0.0170, 0.0100),
    (1332.60, 0.0210, 0.0140), (1332.65, 0.0190, 0.0090), (1332.70, 0.0230, 0.0160),
    (1332.75, 0.0180, 0.0120), (1332.80, 0.0220, 0.0150), (1332.85, 0.0170, 0.0095),
    (1332.90, 0.0200, 0.0130), (1332.95, 0.0160, 0.0100), (1333.00, 0.0210, 0.0150),
    (1333.05, 0.0180, 0.0110), (1333.10, 0.0200, 0.0140), (1333.15, 0.0190, 0.0120),
    (1333.20, 0.0240, 0.0180), (1333.25, 0.0300, 0.0220), (1333.30, 0.0400, 0.0330),
    (1333.35, 0.0700, 0.0600), (1333.40, 0.1500, 0.1300), (1333.45, 0.2600, 0.2200),
    (1333.50, 0.2900, 0.2500), (1333.55, 0.1500, 0.1300), (1333.60, 0.0550, 0.0450),
    (1333.65, 0.0700, 0.0600), (1333.70, 0.1500, 0.1300), (1333.75, 0.3000, 0.2600),
    (1333.80, 0.3700, 0.3000), (1333.85, 0.2000, 0.1700), (1333.90, 0.0700, 0.0600),
    (1333.95, 0.0450, 0.0380), (1334.00, 0.0420, 0.0350), (1334.05, 0.0500, 0.0400),
    (1334.10, 0.0650, 0.0520), (1334.15, 0.0800, 0.0650), (1334.20, 0.0840, 0.0700),
    (1334.25, 0.0750, 0.0600), (1334.30, 0.0700, 0.0580), (1334.35, 0.0800, 0.0650),
    (1334.40, 0.0750, 0.0600), (1334.45, 0.0580, 0.0480), (1334.50, 0.0900, 0.0750),
    (1334.55, 0.2200, 0.1800), (1334.60, 0.4000, 0.3100), (1334.65, 0.5000, 0.3700),
    (1334.70, 0.4200, 0.3300), (1334.75, 0.2200, 0.1800), (1334.80, 0.1200, 0.1000),
    (1334.85, 0.0850, 0.0700), (1334.90, 0.0700, 0.0550), (1334.95, 0.0550, 0.0450),
    (1335.00, 0.0460, 0.0380), (1335.05, 0.0380, 0.0300), (1335.10, 0.0320, 0.0250),
    (1335.15, 0.0380, 0.0300), (1335.20, 0.0450, 0.0350), (1335.25, 0.0580, 0.0450),
    (1335.30, 0.0650, 0.0500), (1335.35, 0.0750, 0.0600), (1335.40, 0.0850, 0.0700),
    (1335.45, 0.1000, 0.0800), (1335.50, 0.0900, 0.0720), (1335.55, 0.0650, 0.0520),
    (1335.60, 0.0600, 0.0480), (1335.65, 0.0800, 0.0650), (1335.70, 0.1300, 0.1050),
    (1335.75, 0.2500, 0.2000), (1335.80, 0.4500, 0.3500), (1335.85, 0.6000, 0.4500),
    (1335.90, 0.5500, 0.4200), (1335.95, 0.3000, 0.2400), (1336.00, 0.1300, 0.1000),
    (1336.05, 0.0800, 0.0650), (1336.10, 0.0600, 0.0450), (1336.15, 0.0450, 0.0330),
    (1336.20, 0.0350, 0.0250), (1336.25, 0.0300, 0.0200), (1336.30, 0.0250, 0.0170),
    (1336.35, 0.0280, 0.0150), (1336.40, 0.0220, 0.0180), (1336.45, 0.0260, 0.0130),
    (1336.50, 0.0210, 0.0160), (1336.55, 0.0250, 0.0120), (1336.60, 0.0200, 0.0170),
    (1336.65, 0.0240, 0.0140), (1336.70, 0.0280, 0.0200), (1336.75, 0.0220, 0.0150),
    (1336.80, 0.0260, 0.0190), (1336.85, 0.0210, 0.0130), (1336.90, 0.0280, 0.0220),
    (1336.95, 0.0230, 0.0160), (1337.00, 0.0300, 0.0230), (1337.05, 0.0240, 0.0170),
    (1337.10, 0.0290, 0.0240), (1337.15, 0.0250, 0.0180), (1337.20, 0.0320, 0.0250),
    (1337.25, 0.0270, 0.0200), (1337.30, 0.0340, 0.0280), (1337.35, 0.0300, 0.0230),
    (1337.40, 0.0380, 0.0300), (1337.45, 0.0330, 0.0250), (1337.50, 0.0400, 0.0320),
    (1337.55, 0.0350, 0.0270), (1337.60, 0.0420, 0.0340), (1337.65, 0.0380, 0.0300),
    (1337.70, 0.0500, 0.0400), (1337.75, 0.0580, 0.0450), (1337.80, 0.0450, 0.0350),
    (1337.85, 0.0400, 0.0320), (1337.90, 0.0550, 0.0420), (1337.95, 0.0650, 0.0500),
    (1338.00, 0.0750, 0.0600), (1338.05, 0.0850, 0.0680), (1338.10, 0.0950, 0.0800),
    (1338.15, 0.1000, 0.0850), (1338.20, 0.0900, 0.0750), (1338.25, 0.0950, 0.0800),
    (1338.30, 0.0850, 0.0700), (1338.35, 0.0700, 0.0550), (1338.40, 0.0600, 0.0480),
    (1338.45, 0.0700, 0.0550), (1338.50, 0.2000, 0.1600), (1338.55, 0.5000, 0.4000),
    (1338.60, 0.4000, 0.3200), (1338.65, 0.2000, 0.1600), (1338.70, 0.1400, 0.1100),
    (1338.75, 0.1800, 0.1400), (1338.80, 0.2400, 0.2000), (1338.85, 0.1500, 0.1200),
    (1338.90, 0.1000, 0.0800), (1338.95, 0.0950, 0.0750), (1339.00, 0.1000, 0.0800),
    (1339.05, 0.2000, 0.1700), (1339.10, 0.2200, 0.1900), (1339.15, 0.0900, 0.0750),
    (1339.20, 0.0550, 0.0450), (1339.25, 0.0480, 0.0400), (1339.30, 0.0460, 0.0380),
    (1339.35, 0.0500, 0.0420), (1339.40, 0.0800, 0.0650), (1339.45, 0.2500, 0.2000),
    (1339.50, 0.3800, 0.3200), (1339.55, 0.2000, 0.1700), (1339.60, 0.3500, 0.3000),
    (1339.65, 0.3800, 0.3200), (1339.70, 0.1800, 0.1500), (1339.75, 0.0900, 0.0750),
    (1339.80, 0.0600, 0.0500), (1339.85, 0.0500, 0.0400), (1339.90, 0.0450, 0.0380),
    (1339.95, 0.0420, 0.0350), (1340.00, 0.0400, 0.0330), (1340.05, 0.0380, 0.0320),
    (1340.10, 0.0450, 0.0380), (1340.15, 0.0550, 0.0450), (1340.20, 0.0700, 0.0550),
    (1340.25, 0.0600, 0.0500), (1340.30, 0.0450, 0.0380), (1340.35, 0.0380, 0.0300),
    (1340.40, 0.0350, 0.0280), (1340.45, 0.0320, 0.0260), (1340.50, 0.0300, 0.0250),
]
boo_cii_model_black = [
    (1327.5, 0.008), (1334.4, 0.008), (1334.7, 0.0095), (1334.95, 0.0104),
    (1335.2, 0.0095), (1335.5, 0.0085), (1340.5, 0.008),
]
boo_cii_model_red = [
    (1327.5, 0.0101), (1333.0, 0.0101), (1333.6, 0.0118), (1334.0, 0.0104),
    (1334.6, 0.0130), (1335.0, 0.0106), (1335.8, 0.0120), (1336.3, 0.0101),
    (1338.0, 0.0102), (1338.5, 0.0125), (1338.9, 0.0108), (1339.5, 0.0135),
    (1340.0, 0.0105), (1340.5, 0.0101),
]
boo_cii_flag_black = [
    (1329.32, 0.017), (1329.34, 0.020), (1329.36, 0.014), (1336.10, 0.060),
    (1336.12, 0.055), (1337.98, 0.060), (1338.02, 0.072), (1338.05, 0.084),
    (1338.38, 0.060), (1338.41, 0.052), (1338.44, 0.065), (1338.47, 0.070),
    (1338.98, 0.100), (1339.01, 0.090), (1339.03, 0.110),
]

# beta Gem, C II 1335 region
gem_cii_spec = [
    (1327.50, 0.0048, 0.0036), (1327.55, 0.0050, 0.0045), (1327.60, 0.0048, 0.0035),
    (1327.65, 0.0080, 0.0060), (1327.70, 0.0140, 0.0040), (1327.75, 0.0060, 0.0034),
    (1327.80, 0.0048, 0.0050), (1327.85, 0.0085, 0.0035), (1327.90, 0.0048, 0.0070),
    (1327.95, 0.0060, 0.0036), (1328.00, 0.0085, 0.0034), (1328.05, 0.0048, 0.0060),
    (1328.10, 0.0055, 0.0035), (1328.15, 0.0048, 0.0045), (1328.20, 0.0140, 0.0036),
    (1328.25, 0.0060, 0.0080), (1328.30, 0.0048, 0.0034), (1328.35, 0.0070, 0.0050),
    (1328.40, 0.0048, 0.0036), (1328.45, 0.0090, 0.0065), (1328.50, 0.0050, 0.0035),
    (1328.55, 0.0075, 0.0050), (1328.60, 0.0060, 0.0045), (1328.65, 0.0100, 0.0090),
    (1328.70, 0.0160, 0.0150), (1328.75, 0.0240, 0.0230), (1328.80, 0.0270, 0.0270),
    (1328.85, 0.0270, 0.0280), (1328.90, 0.0200, 0.0200), (1328.95, 0.0190, 0.0180),
    (1329.00, 0.0230, 0.0220), (1329.05, 0.0250, 0.0240), (1329.10, 0.0250, 0.0250),
    (1329.15, 0.0200, 0.0190), (1329.20, 0.0140, 0.0130), (1329.25, 0.0070, 0.0060),
    (1329.30, 0.0060, 0.0050), (1329.35, 0.0090, 0.0080), (1329.40, 0.0140, 0.0120),
    (1329.45, 0.0180, 0.0170), (1329.50, 0.0200, 0.0190), (1329.55, 0.0200, 0.0190),
    (1329.60, 0.0190, 0.0180), (1329.65, 0.0160, 0.0140), (1329.70, 0.0100, 0.0090),
    (1329.75, 0.0070, 0.0060), (1329.80, 0.0050, 0.0040), (1329.90, 0.0048, 0.0034),
    (1330.00, 0.0049, 0.0045), (1330.10, 0.0050, 0.0034), (1330.20, 0.0052, 0.0040),
    (1330.30, 0.0054, 0.0033), (1330.40, 0.0056, 0.0050), (1330.50, 0.0110, 0.0035),
    (1330.55, 0.0058, 0.0070), (1330.60, 0.0090, 0.0036), (1330.70, 0.0059, 0.0034),
    (1330.80, 0.0130, 0.0060), (1330.85, 0.0060, 0.0035), (1330.90, 0.0080, 0.0090),
    (1330.95, 0.0059, 0.0036), (1331.00, 0.0058, 0.0034), (1331.10, 0.0056, 0.0050),
    (1331.20, 0.0055, 0.0034), (1331.30, 0.0053, 0.0045), (1331.40, 0.0052, 0.0033),
    (1331.50, 0.0051, 0.0040), (1331.58, 0.0140, 0.0034), (1331.65, 0.0050, 0.0050),
    (1331.75, 0.0049, 0.0034), (1331.85, 0.0048, 0.0060), (1331.95, 0.0047, 0.0034),
    (1332.00, 0.0047, 0.0100), (1332.05, 0.0047, 0.0035), (1332.18, 0.0140, 0.0034),
    (1332.25, 0.0046, 0.0045), (1332.35, 0.0046, 0.0034), (1332.45, 0.0045, 0.0050),
    (1332.55, 0.0045, 0.0034), (1332.63, 0.0075, 0.0040), (1332.70, 0.0045, 0.0033),
    (1332.80, 0.0044, 0.0045), (1332.90, 0.0044, 0.0034), (1333.00, 0.0044, 0.0060),
    (1333.10, 0.0044, 0.0034), (1333.20, 0.0043, 0.0050), (1333.30, 0.0043, 0.0035),
    (1333.40, 0.0090, 0.0080), (1333.45, 0.0043, 0.0034), (1333.54, 0.0140, 0.0100),
    (1333.60, 0.0043, 0.0035), (1333.70, 0.0043, 0.0045), (1333.80, 0.0043, 0.0034),
    (1333.90, 0.0070, 0.0050), (1333.95, 0.0110, 0.0060), (1334.00, 0.0060, 0.0045),
    (1334.05, 0.0080, 0.0060), (1334.10, 0.0100, 0.0090), (1334.15, 0.0200, 0.0200),
    (1334.20, 0.0400, 0.0420), (1334.25, 0.0700, 0.0750), (1334.30, 0.1300, 0.1400),
    (1334.35, 0.2000, 0.2200), (1334.40, 0.2700, 0.3000), (1334.45, 0.2900, 0.3300),
    (1334.50, 0.2000, 0.2300), (1334.54, 0.0300, 0.0350), (1334.57, 0.0160, 0.0200),
    (1334.61, 0.1000, 0.1100), (1334.65, 0.1300, 0.1350), (1334.69, 0.0900, 0.0950),
    (1334.74, 0.0430, 0.0450), (1334.78, 0.0200, 0.0190), (1334.82, 0.0120, 0.0100),
    (1334.87, 0.0090, 0.0060), (1334.92, 0.0080, 0.0050), (1334.97, 0.0085, 0.0045),
    (1335.02, 0.0110, 0.0050), (1335.07, 0.0075, 0.0045), (1335.12, 0.0085, 0.0070),
    (1335.17, 0.0120, 0.0100), (1335.22, 0.0200, 0.0190), (1335.27, 0.0380, 0.0380),
    (1335.32, 0.0700, 0.0750), (1335.37, 0.1300, 0.1400), (1335.42, 0.2200, 0.2400),
    (1335.47, 0.2800, 0.3100), (1335.52, 0.2900, 0.3300), (1335.57, 0.2800, 0.3200),
    (1335.62, 0.2800, 0.3300), (1335.67, 0.2900, 0.3100), (1335.72, 0.2800, 0.3100),
    (1335.77, 0.2700, 0.2900), (1335.82, 0.2200, 0.2300), (1335.87, 0.1300, 0.1300),
    (1335.92, 0.0600, 0.0600), (1335.97, 0.0250, 0.0230), (1336.02, 0.0130, 0.0100),
    (1336.07, 0.0100, 0.0060), (1336.12, 0.0070, 0.0045), (1336.17, 0.0055, 0.0040),
    (1336.25, 0.0048, 0.0035), (1336.35, 0.0090, 0.0034), (1336.40, 0.0048, 0.0050),
    (1336.50, 0.0100, 0.0035), (1336.55, 0.0048, 0.0034), (1336.65, 0.0090, 0.0060),
    (1336.70, 0.0048, 0.0035), (1336.80, 0.0048, 0.0045), (1336.90, 0.0048, 0.0034),
    (1337.00, 0.0048, 0.0050), (1337.10, 0.0048, 0.0035), (1337.25, 0.0080, 0.0034),
    (1337.30, 0.0049, 0.0045), (1337.40, 0.0050, 0.0034), (1337.50, 0.0050, 0.0055),
    (1337.60, 0.0051, 0.0035), (1337.70, 0.0052, 0.0045), (1337.80, 0.0053, 0.0035),
    (1337.90, 0.0090, 0.0060), (1337.95, 0.0053, 0.0036), (1338.00, 0.0140, 0.0160),
    (1338.05, 0.0054, 0.0045), (1338.10, 0.0090, 0.0035), (1338.15, 0.0055, 0.0060),
    (1338.20, 0.0060, 0.0036), (1338.25, 0.0055, 0.0170), (1338.30, 0.0120, 0.0040),
    (1338.35, 0.0056, 0.0035), (1338.40, 0.0140, 0.0050), (1338.45, 0.0057, 0.0036),
    (1338.55, 0.0090, 0.0080), (1338.60, 0.0057, 0.0035), (1338.70, 0.0058, 0.0050),
    (1338.75, 0.0100, 0.0036), (1338.80, 0.0058, 0.0060), (1338.90, 0.0059, 0.0040),
    (1339.00, 0.0140, 0.0180), (1339.05, 0.0060, 0.0040), (1339.10, 0.0060, 0.0070),
    (1339.15, 0.0100, 0.0040), (1339.20, 0.0060, 0.0036), (1339.26, 0.0200, 0.0100),
    (1339.32, 0.0060, 0.0045), (1339.40, 0.0110, 0.0060), (1339.45, 0.0060, 0.0040),
    (1339.51, 0.0090, 0.0220), (1339.57, 0.0059, 0.0050), (1339.65, 0.0080, 0.0036),
    (1339.70, 0.0058, 0.0045), (1339.80, 0.0057, 0.0035), (1339.85, 0.0070, 0.0080),
    (1339.90, 0.0056, 0.0036), (1340.00, 0.0055, 0.0040), (1340.06, 0.0150, 0.0050),
    (1340.12, 0.0054, 0.0036), (1340.20, 0.0053, 0.0045), (1340.30, 0.0052, 0.0035),
    (1340.40, 0.0060, 0.0040), (1340.50, 0.0052, 0.0036),
]
gem_cii_model_black = [
    (1327.5, 0.0045), (1329.0, 0.0046), (1331.0, 0.0045), (1333.0, 0.0044),
    (1333.8, 0.0047), (1334.2, 0.0062), (1334.45, 0.0075), (1334.7, 0.0066),
    (1334.9, 0.0065), (1335.2, 0.0088), (1335.55, 0.0117), (1335.75, 0.0110),
    (1335.95, 0.0085), (1336.2, 0.0055), (1336.6, 0.0047), (1340.5, 0.0047),
]
gem_cii_model_red = [
    (1327.5, 0.0033), (1334.0, 0.0034), (1334.3, 0.0045), (1334.45, 0.0055),
    (1334.7, 0.0045), (1334.95, 0.0038), (1335.3, 0.0052), (1335.6, 0.0065),
    (1335.85, 0.0052), (1336.1, 0.0038), (1336.4, 0.0033), (1340.5, 0.0033),
]

# panel annotations
star_titles = [r'$\alpha$ Boo (K1 III)', r'$\beta$ Gem (K0 III)']

# ------------------------------------------------------------------
W, H = 1188, 749
fig = plt.figure(figsize=(W / 100, H / 100), dpi=100)
fig.patch.set_facecolor('white')

COLS = [(126, 618), (639, 1131)]
ROWS = [(11, 188), (240, 417), (468, 644)]

DEC_LABELS = {2: r'$10^2$', 1: '10', 0: '1', -1: '.1', -2: '.01'}


def dec_label(v, pos):
    if v <= 0:
        return ''
    k = np.log10(v)
    if abs(k - round(k)) > 1e-6:
        return ''
    return DEC_LABELS.get(int(round(k)), '')


def make_axes(col, row):
    x0, x1 = COLS[col]
    y0, y1 = ROWS[row]
    return fig.add_axes([x0 / W, 1 - y1 / H, (x1 - x0) / W, (y1 - y0) / H])


def as_xy(pairs):
    arr = np.array(pairs, dtype=float)
    return arr[:, 0], arr[:, 1]


DASHDOT = (7, 3.5, 1.2, 3.5)


def draw(ax, spec, mod_k, mod_r, xlim, ylim, xmajor, xminor, side,
         flags_k=None, flags_r=None):
    arr = np.array(spec, dtype=float)
    w, fk, fr = arr[:, 0], arr[:, 1], arr[:, 2]
    mx, my = as_xy(mod_r)
    ax.plot(mx, my, color='red', lw=0.7, dashes=DASHDOT, zorder=2)
    mx, my = as_xy(mod_k)
    ax.plot(mx, my, color='black', lw=0.7, dashes=DASHDOT, zorder=2)
    ax.plot(w, fr, color='red', lw=1.5, zorder=3)
    ax.plot(w, fk, color='black', lw=0.9, zorder=4)
    if flags_k:
        fx, fy = as_xy(flags_k)
        ax.plot(fx, fy, ls='none', marker=(6, 2, 0), ms=7, mew=0.9,
                color='black', zorder=5)
    if flags_r:
        fx, fy = as_xy(flags_r)
        ax.plot(fx, fy, ls='none', marker=(6, 2, 0), ms=7, mew=0.9,
                color='red', zorder=5)

    ax.set_yscale('log')
    ax.set_xlim(*xlim)
    ax.set_ylim(*ylim)
    ax.xaxis.set_major_locator(FixedLocator(xmajor))
    ax.xaxis.set_minor_locator(MultipleLocator(xminor))
    ax.xaxis.set_major_formatter(FuncFormatter(lambda v, p: f'{v:.0f}'))
    ax.yaxis.set_major_locator(LogLocator(base=10, numticks=12))
    ax.yaxis.set_minor_locator(LogLocator(base=10, subs=np.arange(2, 10), numticks=30))
    ax.yaxis.set_major_formatter(FuncFormatter(dec_label))
    ax.yaxis.set_minor_formatter(NullFormatter())

    for s in ax.spines.values():
        s.set_linewidth(1.5)
    ax.tick_params(which='both', direction='in', top=True, bottom=True,
                   left=True, right=True, width=1.0, labelsize=15,
                   labelleft=(side == 'left'), labelright=(side == 'right'))
    ax.tick_params(axis='x', which='major', length=6.5, pad=11)
    ax.tick_params(axis='x', which='minor', length=3.5)
    ax.tick_params(axis='y', which='major', length=7.5, pad=7)
    ax.tick_params(axis='y', which='minor', length=4)


ax = make_axes(0, 0)
draw(ax, boo_lya_spec, boo_lya_model_black, boo_lya_model_red,
     (1205, 1219), (0.05, 150), [1206, 1210, 1214, 1218], 1.0, 'left',
     boo_lya_flag_black, boo_lya_flag_red)
ax.text(0.385, 0.79, star_titles[0], transform=ax.transAxes, ha='center',
        va='center', fontsize=22)

ax = make_axes(1, 0)
draw(ax, gem_lya_spec, gem_lya_model_black, gem_lya_model_red,
     (1205, 1219), (0.01, 49), [1208, 1212, 1216], 1.0, 'right')
ax.text(0.40, 0.80, star_titles[1], transform=ax.transAxes, ha='center',
        va='center', fontsize=22)

ax = make_axes(0, 1)
draw(ax, boo_oi_spec, boo_oi_model_black, boo_oi_model_red,
     (1294.5, 1307.55), (0.01, 58), [1296, 1300, 1304], 0.5, 'left',
     boo_oi_flag_black)

ax = make_axes(1, 1)
draw(ax, gem_oi_spec, gem_oi_model_black, gem_oi_model_red,
     (1295.0, 1308.0), (0.003, 19), [1298, 1302, 1306], 0.5, 'right')

ax = make_axes(0, 2)
draw(ax, boo_cii_spec, boo_cii_model_black, boo_cii_model_red,
     (1327.5, 1340.5), (0.01, 5.8), [1328, 1332, 1336, 1340], 0.5, 'left',
     boo_cii_flag_black)

ax = make_axes(1, 2)
draw(ax, gem_cii_spec, gem_cii_model_black, gem_cii_model_red,
     (1327.5, 1340.5), (0.0031, 2.1), [1330, 1334, 1338], 0.5, 'right')

fig.text(30 / W, 1 - 336 / H,
         r'Flux Density   (  10$^{-12}$   erg   cm$^{-2}$   s$^{-1}$   Å$^{-1}$  )',
         rotation=90, ha='center', va='center', fontsize=18.5)
fig.text(638 / W, 1 - 720 / H, 'Wavelength   (Å)', ha='center', va='center',
         fontsize=23)

fig.savefig('out.png', dpi=100)
